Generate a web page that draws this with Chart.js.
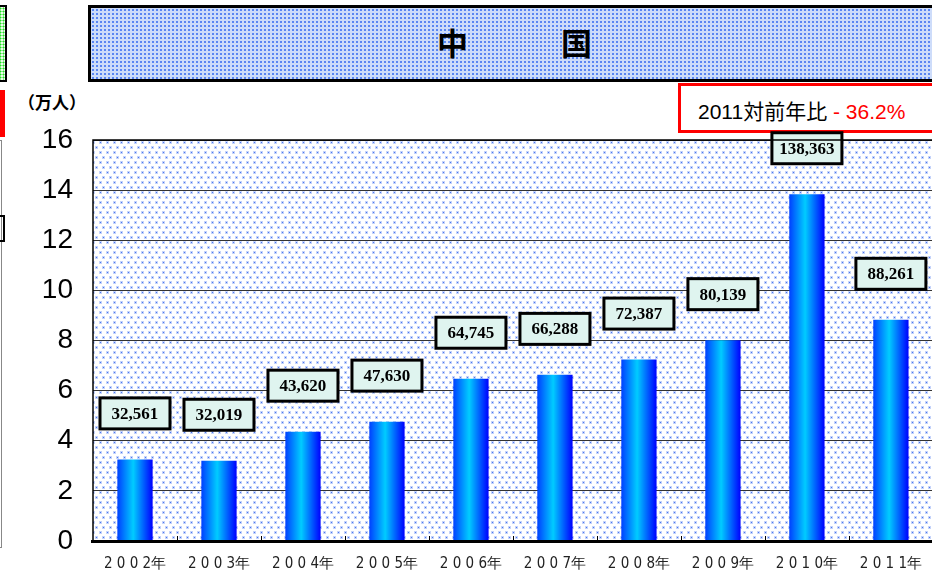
<!DOCTYPE html>
<html>
<head>
<meta charset="utf-8">
<script src="https://cdn.jsdelivr.net/npm/chart.js@4.4.1/dist/chart.umd.min.js"></script>
<style>
  html, body { margin: 0; padding: 0; background: #fff; overflow: hidden; }
  body { width: 932px; height: 579px; position: relative; font-family: "Liberation Sans", Arial, sans-serif; }
  #wrap { position: absolute; left: 0; top: 0; width: 936px; height: 579px; }
  .abs { position: absolute; box-sizing: border-box; }
  #title {
    left: 88px; top: 5px; width: 860px; height: 77px;
    border: 3px solid #000;
    background-color: #cddcfa;
    background-image: radial-gradient(circle, #5a86f2 0.9px, transparent 1.3px);
    background-size: 4px 4px;
  }
  #titleText { left: 437px; top: 22px; font: bold 31px "Noto Sans CJK JP", sans-serif; color: #000; white-space: pre; line-height: 40px; }
  #unit { left: 18px; top: 89px; font: bold 17px "Noto Sans CJK JP", sans-serif; color: #000; }
  #yoy {
    left: 678px; top: 83px; width: 270px; height: 50px;
    border: 3px solid #ff0000; background: #fff;
    font: 21px "Liberation Sans", "Noto Sans CJK JP", sans-serif; color: #000;
    padding: 9px 0 0 17px; white-space: pre;
  }
  #yoy span { color: #ff0000; }
  #leftA {
    left: -3px; top: 5px; width: 10px; height: 77px; border: 2px solid #000;
    background-color: #eaffea;
    background-image: radial-gradient(circle, #22dd22 0.8px, transparent 1.2px);
    background-size: 3px 3px;
  }
  #leftB { left: 0; top: 90px; width: 5px; height: 47px; background: #ff0000; }
  #leftC { left: -3px; top: 140px; width: 5px; height: 408px; border: 1px solid #888; }
  #leftD { left: -3px; top: 215px; width: 8px; height: 27px; border: 2px solid #000; }
</style>
</head>
<body>
<div class="abs" id="leftA"></div>
<div class="abs" id="leftB"></div>
<div class="abs" id="leftC"></div>
<div class="abs" id="leftD"></div>
<div class="abs" id="title"></div>
<div class="abs" id="titleText">中　　　国</div>
<div class="abs" id="unit">（万人）</div>
<div class="abs" id="yoy">2011対前年比 <span>- 36.2%</span></div>
<div id="wrap"><canvas id="c" width="936" height="579"></canvas></div>
<script>
const years = ['2002', '2003', '2004', '2005', '2006', '2007', '2008', '2009', '2010', '2011'];
const xLabels = ['2 0 0 2年', '2 0 0 3年', '2 0 0 4年', '2 0 0 5年', '2 0 0 6年', '2 0 0 7年', '2 0 0 8年', '2 0 0 9年', '2 0 1 0年', '2 0 1 1年'];
const visitors = [32561, 32019, 43620, 47630, 64745, 66288, 72387, 80139, 138363, 88261];
const visitorsMan = visitors.map((v) => v / 10000);
const yTicks = [0, 2, 4, 6, 8, 10, 12, 14, 16];

const BAR_PCT = 0.42;

// dotted background tile for the plot area
const tile = document.createElement('canvas');
tile.width = 7;
tile.height = 10;
const tctx = tile.getContext('2d');
tctx.fillStyle = '#fff';
tctx.fillRect(0, 0, 7, 10);
tctx.fillStyle = 'rgba(90,130,240,0.35)';
tctx.fillRect(1, 1, 3, 3);
tctx.fillRect(4, 6, 3, 3);
tctx.fillStyle = '#4a78ee';
tctx.fillRect(2, 2, 1, 1);
tctx.fillRect(5, 7, 1, 1);

function barGradient(context) {
  const chart = context.chart;
  if (!chart.chartArea) return '#0080ff';
  const xs = chart.scales.x;
  const cx = xs.getPixelForValue(context.dataIndex);
  const w = (xs.width / years.length) * BAR_PCT;
  const g = chart.ctx.createLinearGradient(cx - w / 2, 0, cx + w / 2, 0);
  g.addColorStop(0, '#0040ff');
  g.addColorStop(0.45, '#00ccff');
  g.addColorStop(1, '#0000ff');
  return g;
}

const plotBg = {
  id: 'plotBg',
  beforeDraw(chart) {
    const { ctx, chartArea: a } = chart;
    ctx.save();
    ctx.fillStyle = ctx.createPattern(tile, 'repeat');
    ctx.fillRect(a.left, a.top, a.right - a.left, a.bottom - a.top);
    ctx.restore();
  },
  afterDraw(chart) {
    const { ctx, chartArea: a } = chart;
    ctx.save();
    ctx.strokeStyle = '#000';
    ctx.lineWidth = 1.5;
    ctx.beginPath();
    ctx.moveTo(a.left, a.bottom);
    ctx.lineTo(a.left, a.top);
    ctx.lineTo(a.right, a.top);
    ctx.stroke();
    // small inner ticks between categories
    const xs = chart.scales.x;
    ctx.lineWidth = 1;
    for (let i = 1; i < years.length; i++) {
      const x = Math.round((xs.getPixelForValue(i - 1) + xs.getPixelForValue(i)) / 2) + 0.5;
      ctx.beginPath();
      ctx.moveTo(x, a.bottom);
      ctx.lineTo(x, a.bottom - 5);
      ctx.stroke();
    }
    ctx.lineWidth = 3;
    ctx.beginPath();
    ctx.moveTo(a.left - 2, a.bottom + 0.5);
    ctx.lineTo(a.right, a.bottom + 0.5);
    ctx.stroke();
    ctx.restore();
  },
};

const valueBoxes = {
  id: 'valueBoxes',
  afterDatasetsDraw(chart) {
    const { ctx } = chart;
    const meta = chart.getDatasetMeta(0);
    ctx.save();
    ctx.font = 'bold 17px "Liberation Serif", "Times New Roman", serif';
    ctx.textAlign = 'center';
    ctx.textBaseline = 'middle';
    meta.data.forEach((bar, i) => {
      const text = visitors[i].toLocaleString('en-US');
      const w = 70, h = 31;
      const cx = bar.x;
      const cy = bar.y - 46;
      ctx.fillStyle = '#dff4ef';
      ctx.fillRect(cx - w / 2, cy - h / 2, w, h);
      ctx.strokeStyle = '#000';
      ctx.lineWidth = 3;
      ctx.strokeRect(cx - w / 2, cy - h / 2, w, h);
      ctx.fillStyle = '#000';
      ctx.fillText(text, cx, cy + 1);
    });
    ctx.restore();
  },
};

new Chart(document.getElementById('c'), {
  type: 'bar',
  data: {
    labels: xLabels,
    datasets: [{
      label: '中国',
      data: visitorsMan,
      backgroundColor: barGradient,
      borderWidth: 0,
      barPercentage: BAR_PCT,
      categoryPercentage: 1,
    }],
  },
  options: {
    responsive: false,
    animation: false,
    events: [],
    layout: { padding: { top: 140, right: 0, left: 0, bottom: 0 } },
    plugins: {
      legend: { display: false },
      tooltip: { enabled: false },
    },
    scales: {
      x: {
        grid: { display: false, drawTicks: false },
        border: { display: false },
        ticks: { color: '#222', font: { size: 15, family: '"DejaVu Sans Condensed", "Liberation Sans", sans-serif' }, padding: 14, maxRotation: 0 },
        afterFit(scale) { scale.height = 38; },
      },
      y: {
        min: 0,
        max: 16,
        afterBuildTicks(scale) { scale.ticks = yTicks.map((v) => ({ value: v })); },
        grid: { color: '#333', lineWidth: 1, drawTicks: false },
        border: { display: false },
        ticks: { color: '#000', font: { size: 28, family: '"Liberation Sans Narrow", "Liberation Sans", sans-serif' }, padding: 20 },
        afterFit(scale) { scale.width = 93; },
      },
    },
  },
  plugins: [plotBg, valueBoxes],
});
</script>
</body>
</html>
